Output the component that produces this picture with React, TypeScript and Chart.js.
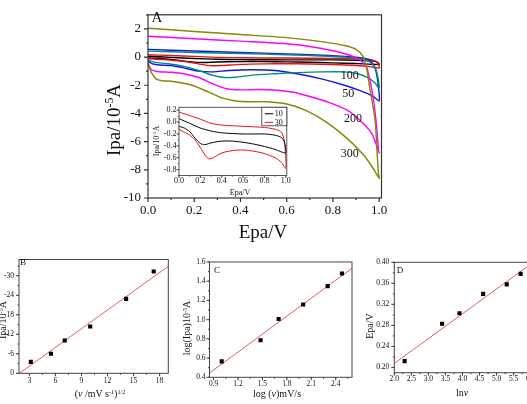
import React, { useEffect, useRef } from "react";
import { Chart, registerables } from "chart.js";

Chart.register(...registerables);

const FONT = '"Liberation Serif", "Times New Roman", Times, serif';

type P = [number, number];

// ---------- Panel A: cyclic voltammograms [E (V), I (1e-5 A)], forward then reverse ----------
const cv10: P[] = [
  [0, -0.07], [0.05, -0.1], [0.1, -0.16], [0.15, -0.27], [0.2, -0.36], [0.24, -0.38], [0.3, -0.35],
  [0.4, -0.32], [0.5, -0.32], [0.6, -0.34], [0.7, -0.37], [0.8, -0.41], [0.9, -0.46], [1.0, -0.52],
  [0.995, -0.4], [0.98, -0.3], [0.95, -0.25], [0.9, -0.22], [0.8, -0.2], [0.6, -0.2], [0.4, -0.18],
  [0.3, -0.15], [0.2, -0.1], [0.1, -0.02], [0, 0.06],
];
const cv30: P[] = [
  [0, -0.12], [0.05, -0.17], [0.1, -0.22], [0.15, -0.3], [0.2, -0.43], [0.25, -0.57], [0.28, -0.62],
  [0.32, -0.6], [0.4, -0.52], [0.5, -0.48], [0.6, -0.47], [0.7, -0.49], [0.8, -0.53], [0.9, -0.6],
  [0.96, -0.68], [1.0, -0.78], [0.997, -0.5], [0.985, -0.3], [0.96, -0.17], [0.9, -0.12], [0.8, -0.09],
  [0.6, -0.07], [0.4, -0.05], [0.3, -0.02], [0.2, 0.05], [0.1, 0.11], [0, 0.17],
];
const cv50: P[] = [
  [0, -0.3], [0.02, -0.48], [0.05, -0.56], [0.1, -0.6], [0.15, -0.75], [0.22, -1.0], [0.28, -1.05],
  [0.35, -0.95], [0.45, -0.9], [0.55, -0.95], [0.65, -1.2], [0.75, -1.55], [0.85, -2.0], [0.92, -2.4],
  [0.97, -2.75], [1.0, -3.1], [0.997, -2.2], [0.99, -1.3], [0.98, -0.7], [0.96, -0.25], [0.92, -0.05],
  [0.85, 0.05], [0.75, 0.13], [0.6, 0.23], [0.4, 0.33], [0.2, 0.43], [0, 0.55],
];
const cv100: P[] = [
  [0, -0.22], [0.03, -0.38], [0.08, -0.46], [0.15, -0.65], [0.22, -0.95], [0.28, -1.3], [0.33, -1.45],
  [0.38, -1.43], [0.45, -1.28], [0.55, -1.18], [0.65, -1.1], [0.75, -1.05], [0.85, -1.05], [0.9, -1.15],
  [0.95, -1.45], [0.98, -1.8], [1.0, -2.2], [0.995, -1.5], [0.985, -0.85], [0.96, -0.35], [0.92, -0.12],
  [0.85, 0.0], [0.75, 0.08], [0.6, 0.17], [0.4, 0.25], [0.2, 0.33], [0, 0.42],
];
const cv200: P[] = [
  [0, -0.45], [0.015, -0.9], [0.04, -1.02], [0.1, -1.08], [0.16, -1.2], [0.22, -1.45], [0.28, -1.9],
  [0.34, -2.25], [0.4, -2.33], [0.48, -2.3], [0.56, -2.35], [0.63, -2.5], [0.7, -2.8], [0.77, -3.15],
  [0.86, -3.75], [0.93, -4.7], [0.97, -5.5], [1.0, -6.8], [0.997, -6.6], [0.987, -4.6], [0.968, -2.3],
  [0.945, -0.7], [0.916, -0.2], [0.87, 0.15], [0.8, 0.45], [0.7, 0.75], [0.6, 0.95], [0.4, 1.13],
  [0.2, 1.3], [0, 1.48],
];
const cv300: P[] = [
  [0, -0.45], [0.015, -1.1], [0.035, -1.55], [0.06, -1.68], [0.1, -1.72], [0.19, -2.0], [0.265, -2.5],
  [0.32, -2.9], [0.38, -3.12], [0.44, -3.17], [0.51, -3.17], [0.6, -3.33], [0.685, -3.8], [0.77, -4.6],
  [0.86, -5.75], [0.93, -6.9], [0.97, -7.8], [1.0, -8.6], [0.997, -8.3], [0.99, -6.5], [0.983, -4.6],
  [0.97, -3.2], [0.96, -2.3], [0.946, -0.8], [0.93, 0.05], [0.9, 0.55], [0.85, 0.82], [0.8, 0.97],
  [0.7, 1.2], [0.6, 1.38], [0.4, 1.6], [0.2, 1.82], [0, 2.05],
];
const mainXTicks = [0, 0.2, 0.4, 0.6, 0.8, 1.0];
const mainYTicks = [-10, -8, -6, -4, -2, 0, 2];
const curveLabels = ["100", "50", "200", "300"];
const curveLabelE = [0.873, 0.866, 0.887, 0.873];
const curveLabelI = [-1.31, -2.58, -4.37, -6.89];

const insetXTicks = [0, 0.2, 0.4, 0.6, 0.8, 1.0];
const insetYTicks = [-0.8, -0.6, -0.4, -0.2, 0, 0.2];
const insetLegend = ["10", "30"];

// ---------- Panel B ----------
const bX = [3.16, 5.48, 7.07, 10, 14.14, 17.32];
const bY = [-3.5, -6.0, -10.1, -14.4, -22.9, -31.3];
const bFit: P[] = [[1.85, 0], [19, -32.9]];
const bXTicks = [3, 6, 9, 12, 15, 18];
const bYTicks = [0, -6, -12, -18, -24, -30];

// ---------- Panel C ----------
const cX = [1.0, 1.477, 1.699, 2.0, 2.301, 2.477];
const cY = [0.566, 0.785, 1.006, 1.157, 1.349, 1.48];
const cFit: P[] = [[0.85, 0.445], [2.6, 1.535]];
const cXTicks = [0.9, 1.2, 1.5, 1.8, 2.1, 2.4];
const cYTicks = [0.4, 0.6, 0.8, 1.0, 1.2, 1.4, 1.6];

// ---------- Panel D ----------
const dX = [2.303, 3.401, 3.912, 4.605, 5.298, 5.704];
const dY = [0.212, 0.283, 0.303, 0.34, 0.358, 0.378];
const dFit: P[] = [[2.0, 0.2077], [6.0, 0.3965]];
const dXTicks = [2.0, 2.5, 3.0, 3.5, 4.0, 4.5, 5.0, 5.5, 6.0];
const dYTicks = [0.2, 0.24, 0.28, 0.32, 0.36, 0.4];

const COLORS: Record<string, string> = {
  "10": "#000000",
  "30": "#ee1111",
  "50": "#1515e0",
  "100": "#008b8b",
  "200": "#ff00ff",
  "300": "#878700",
};
const FIT = "#e06060";

const toXY = (pts: P[]) => pts.map(([x, y]) => ({ x, y }));

const framePlugin = {
  id: "frame",
  afterDatasetsDraw(chart: any, _a: any, o: any) {
    const { ctx, chartArea: a, scales } = chart;
    const xs = scales.x;
    const ys = scales.y;
    ctx.save();
    ctx.strokeStyle = o.color || "#333";
    ctx.lineWidth = o.lineWidth || 1;
    ctx.strokeRect(a.left, a.top, a.right - a.left, a.bottom - a.top);
    const list = (min: number, max: number, step: number) => {
      const r: number[] = [];
      const i0 = Math.ceil(Math.min(min, max) / step - 1e-6);
      const i1 = Math.floor(Math.max(min, max) / step + 1e-6);
      for (let i = i0; i <= i1; i++) r.push(i * step);
      return r;
    };
    ctx.beginPath();
    ([[o.xMajor, o.major], [o.xMinor, o.minor]] as number[][]).forEach(([step, len]) => {
      list(xs.min, xs.max, step).forEach((v) => {
        const p = xs.getPixelForValue(v);
        ctx.moveTo(p, a.bottom);
        ctx.lineTo(p, a.bottom + len);
      });
    });
    ([[o.yMajor, o.major], [o.yMinor, o.minor]] as number[][]).forEach(([step, len]) => {
      list(ys.min, ys.max, step).forEach((v) => {
        const p = ys.getPixelForValue(v);
        ctx.moveTo(a.left, p);
        ctx.lineTo(a.left - len, p);
      });
    });
    ctx.stroke();
    if (o.texts) {
      o.texts.forEach((t: any) => {
        ctx.font = t.font;
        ctx.fillStyle = "#111";
        ctx.textAlign = "center";
        ctx.textBaseline = "middle";
        ctx.fillText(t.text, xs.getPixelForValue(t.x), ys.getPixelForValue(t.y));
      });
    }
    if (o.legend) {
      const L = o.legend;
      const lx = a.right - L.w;
      const ly = a.top;
      ctx.fillStyle = "#fff";
      ctx.fillRect(lx, ly, L.w, L.h);
      ctx.strokeStyle = "#333";
      ctx.lineWidth = 0.8;
      ctx.strokeRect(lx, ly, L.w, L.h);
      ctx.font = L.font;
      ctx.textAlign = "left";
      ctx.textBaseline = "middle";
      L.items.forEach((it: any, i: number) => {
        const yy = ly + 6.5 + i * 8.5;
        ctx.strokeStyle = it.color;
        ctx.lineWidth = 1;
        ctx.beginPath();
        ctx.moveTo(lx + 3, yy);
        ctx.lineTo(lx + 11.5, yy);
        ctx.stroke();
        ctx.fillStyle = "#111";
        ctx.fillText(it.text, lx + 13, yy + 0.5);
      });
    }
    ctx.restore();
  },
};

function makeConfig(p: any) {
  const tickFont = { family: FONT, size: p.fs };
  return {
    type: "scatter",
    data: { datasets: p.datasets },
    options: {
      animation: false,
      responsive: false,
      devicePixelRatio: 1,
      events: [],
      layout: { padding: { left: 0, top: p.padTop, right: p.padRight, bottom: 0 } },
      plugins: { legend: { display: false }, tooltip: { enabled: false }, frame: p.frame },
      scales: {
        x: {
          type: "linear",
          min: p.xMin,
          max: p.xMax,
          afterBuildTicks: (s: any) => {
            s.ticks = p.xTicks.map((v: number) => ({ value: v }));
          },
          afterFit: (s: any) => {
            s.height = p.xH;
          },
          ticks: {
            font: tickFont,
            color: "#111",
            padding: p.xPad,
            maxRotation: 0,
            autoSkip: false,
            callback: (v: any) => p.xFmt(Number(v)),
          },
          grid: { display: false, drawTicks: false },
          border: { display: false },
        },
        y: {
          type: "linear",
          min: p.yMin,
          max: p.yMax,
          reverse: !!p.revY,
          afterBuildTicks: (s: any) => {
            s.ticks = p.yTicks.map((v: number) => ({ value: v }));
          },
          afterFit: (s: any) => {
            s.width = p.yW;
          },
          ticks: {
            font: tickFont,
            color: "#111",
            padding: p.yPad,
            autoSkip: false,
            callback: (v: any) => p.yFmt(Number(v)),
          },
          grid: { display: false, drawTicks: false },
          border: { display: false },
        },
      },
    },
    plugins: [framePlugin],
  };
}

function ChartBox({ left, top, width, height, config }: any) {
  const ref = useRef<HTMLCanvasElement>(null);
  useEffect(() => {
    const chart = new Chart(ref.current as HTMLCanvasElement, config() as any);
    return () => chart.destroy();
  }, []);
  return (
    <canvas
      ref={ref}
      width={width}
      height={height}
      style={{ position: "absolute", left, top, width, height }}
    />
  );
}

function Txt({ x, y, size, rot, children }: any) {
  return (
    <div
      style={{
        position: "absolute",
        left: x,
        top: y,
        transform: `translate(-50%, -50%)${rot ? " rotate(-90deg)" : ""}`,
        fontFamily: FONT,
        fontSize: size,
        lineHeight: 1,
        whiteSpace: "nowrap",
        color: "#111",
      }}
    >
      {children}
    </div>
  );
}

const sup = (t: string) => <sup style={{ fontSize: "0.62em", verticalAlign: "0.55em", lineHeight: 0 }}>{t}</sup>;

const fmt1 = (v: number) => v.toFixed(1);
const fmt0 = (v: number) => String(Math.round(v));
const fmt2 = (v: number) => v.toFixed(2);

const cvLine = (name: string, pts: P[], width: number) => ({
  data: toXY(pts),
  showLine: true,
  borderColor: COLORS[name],
  borderWidth: width,
  pointRadius: 0,
  tension: 0.25,
  fill: false,
});

const pointsSet = (xs: number[], ys: number[]) => ({
  data: xs.map((x, i) => ({ x, y: ys[i] })),
  showLine: false,
  pointStyle: "rect",
  pointRadius: 2.9,
  backgroundColor: "#000",
  borderColor: "#000",
  borderWidth: 0,
});

const fitSet = (pts: P[]) => ({
  data: toXY(pts),
  showLine: true,
  borderColor: FIT,
  borderWidth: 1,
  pointRadius: 0,
});

const smallFrame = (xMajor: number, xMinor: number, yMajor: number, yMinor: number) => ({
  color: "#444",
  lineWidth: 1,
  major: 3,
  minor: 1.5,
  xMajor,
  xMinor,
  yMajor,
  yMinor,
});

const mainConfig = () =>
  makeConfig({
    datasets: [
      cvLine("300", cv300, 1.4),
      cvLine("200", cv200, 1.4),
      cvLine("100", cv100, 1.4),
      cvLine("50", cv50, 1.4),
      cvLine("30", cv30, 1.4),
      cvLine("10", cv10, 1.4),
    ],
    xMin: 0, xMax: 1.01, yMin: -10, yMax: 3,
    xTicks: mainXTicks, yTicks: mainYTicks, xFmt: fmt1, yFmt: fmt0,
    fs: 13, xPad: 5, yPad: 7, yW: 58, xH: 34, padTop: 10, padRight: 18.5,
    frame: {
      color: "#333", lineWidth: 1.2, major: 4, minor: 2,
      xMajor: 0.2, xMinor: 0.1, yMajor: 2, yMinor: 1,
      texts: curveLabels.map((t, i) => ({ text: t, x: curveLabelE[i], y: curveLabelI[i], font: `12px ${FONT}` })),
    },
  });

const insetConfig = () =>
  makeConfig({
    datasets: [cvLine("10", cv10, 1), cvLine("30", cv30, 1)],
    xMin: 0, xMax: 1.01, yMin: -0.9, yMax: 0.25,
    xTicks: insetXTicks, yTicks: insetYTicks, xFmt: fmt1, yFmt: fmt1,
    fs: 8, xPad: 1, yPad: 2.5, yW: 29, xH: 26.5, padTop: 6.3, padRight: 8.2,
    frame: {
      color: "#444", lineWidth: 0.9, major: 2.5, minor: 1.2,
      xMajor: 0.2, xMinor: 0.1, yMajor: 0.2, yMinor: 0.1,
      legend: {
        w: 25, h: 18.5, font: `8px ${FONT}`,
        items: insetLegend.map((t) => ({ text: t, color: COLORS[t] })),
      },
    },
  });

const bConfig = () =>
  makeConfig({
    datasets: [pointsSet(bX, bY), fitSet(bFit)],
    xMin: 1.8, xMax: 19, yMin: -35, yMax: 0, revY: true,
    xTicks: bXTicks, yTicks: bYTicks, xFmt: fmt0, yFmt: fmt0,
    fs: 7.5, xPad: 3, yPad: 5, yW: 19, xH: 30.7, padTop: 7.5, padRight: 13.7,
    frame: smallFrame(3, 1.5, 6, 3),
  });

const cConfig = () =>
  makeConfig({
    datasets: [pointsSet(cX, cY), fitSet(cFit)],
    xMin: 0.85, xMax: 2.6, yMin: 0.4, yMax: 1.6,
    xTicks: cXTicks, yTicks: cYTicks, xFmt: fmt1, yFmt: fmt1,
    fs: 7.5, xPad: 2, yPad: 4, yW: 27.5, xH: 26.7, padTop: 12, padRight: 8,
    frame: smallFrame(0.3, 0.15, 0.2, 0.1),
  });

const dConfig = () =>
  makeConfig({
    datasets: [pointsSet(dX, dY), fitSet(dFit)],
    xMin: 2.0, xMax: 6.0, yMin: 0.19, yMax: 0.4,
    xTicks: dXTicks, yTicks: dYTicks, xFmt: fmt1, yFmt: fmt2,
    fs: 7.5, xPad: 1.5, yPad: 5, yW: 34.3, xH: 31.3, padTop: 12.3, padRight: 14.3,
    frame: smallFrame(0.5, 0.25, 0.04, 0.02),
  });

export default function App() {
  return (
    <div
      style={{
        position: "fixed",
        left: 0,
        top: 0,
        width: 527,
        height: 404,
        overflow: "hidden",
        background: "#fff",
      }}
    >
      <ChartBox left={90} top={0} width={310} height={232} config={mainConfig} />
      <ChartBox left={150} top={100} width={145} height={102} config={insetConfig} />
      <ChartBox left={0} top={250} width={182} height={154} config={bConfig} />
      <ChartBox left={182} top={250} width={178} height={154} config={cConfig} />
      <ChartBox left={360} top={250} width={185} height={154} config={dConfig} />

      <Txt x={113} y={120} size={19} rot>
        Ipa/10{sup("-5")}A
      </Txt>
      <Txt x={263} y={231} size={19}>Epa/V</Txt>
      <Txt x={157} y={17} size={15}>A</Txt>

      <Txt x={157} y={141} size={8} rot>
        Ipa/10{sup("-5")}A
      </Txt>
      <Txt x={240} y={193} size={8}>Epa/V</Txt>

      <Txt x={3} y={320} size={10} rot>
        Ipa/10{sup("-5")}A
      </Txt>
      <Txt x={100} y={394} size={10}>
        (<i>ν</i> /mV s{sup("-1")}){sup("1/2")}
      </Txt>
      <Txt x={23} y={262} size={9}>B</Txt>

      <Txt x={187} y={328} size={10} rot>
        log(Ipa)10{sup("-5")}A
      </Txt>
      <Txt x={277} y={394} size={10}>
        log (<i>ν</i>)mV/s
      </Txt>
      <Txt x={217} y={270} size={9}>C</Txt>

      <Txt x={370} y={326} size={10} rot>Epa/V</Txt>
      <Txt x={462} y={393} size={10}>
        ln<i>ν</i>
      </Txt>
      <Txt x={400} y={270} size={9}>D</Txt>
    </div>
  );
}
